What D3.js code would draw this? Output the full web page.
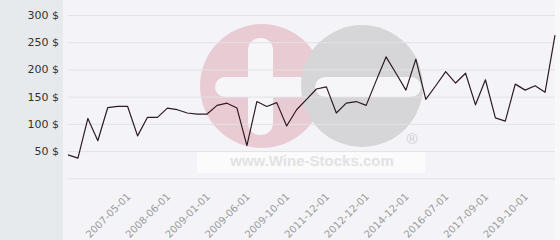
<!DOCTYPE html>
<html><head><meta charset="utf-8">
<script src="https://cdn.jsdelivr.net/npm/d3@7/dist/d3.min.js"></script>
<style>html,body{margin:0;padding:0;background:#fff}svg{display:block}</style>
</head><body>
<svg id="c" width="560" height="240"></svg>
<script>
// ---- data ----
const values = [43, 37, 110, 69, 130, 132, 132, 78, 112, 112,
                129, 126, 120, 118, 118, 134, 138, 129, 60, 141,
                132, 139, 96, 126, 145, 164, 168, 120, 138, 141,
                134, 179, 223, 193, 162, 219, 145, 170, 196, 175,
                193, 135, 181, 111, 105, 173, 162, 170, 158, 263];
const tickLabels = ["2007-05-01","2008-06-01","2009-01-01","2009-06-01","2009-10-01",
                    "2011-12-01","2012-12-01","2014-12-01","2016-07-01","2017-09-01","2019-10-01"];
const tickIndex = [6, 10, 14, 18, 22, 26, 30, 34, 38, 42, 46];
const yTicks = [0, 50, 100, 150, 200, 250, 300];

const W = 560, H = 240;
const svg = d3.select("#c");
const pL = 68, pR = 555, pT = 15, pB = 178.3;

// backgrounds
svg.append("rect").attr("x",0).attr("y",0).attr("width",W).attr("height",H).attr("fill","#f8f8fa");
svg.append("rect").attr("x",0).attr("y",0).attr("width",63).attr("height",H).attr("fill","#e6eaed");
svg.append("rect").attr("x",63).attr("y",0).attr("width",pR-63).attr("height",H).attr("fill","#f4f4f8");

const idx = d3.range(values.length);
const x = d3.scalePoint().domain(idx).range([pL, pR]).padding(0);
const y = d3.scaleLinear().domain([0, 300]).range([pB, pT]);

// watermark
const wm = svg.append("g");
wm.append("circle").attr("cx",262).attr("cy",86).attr("r",62).attr("fill","#e9cbd3");
wm.append("rect").attr("x",215).attr("y",77).attr("width",95).attr("height",20).attr("rx",10).attr("fill","#f6f6f9");
wm.append("rect").attr("x",248).attr("y",38).attr("width",25).attr("height",97).attr("rx",12).attr("fill","#f6f6f9");
wm.append("circle").attr("cx",362).attr("cy",86).attr("r",61).attr("fill","#d6d6d8");
wm.append("rect").attr("x",315).attr("y",77).attr("width",106).attr("height",20).attr("rx",10).attr("fill","#f6f6f9");
wm.append("text").attr("x",412).attr("y",144).attr("text-anchor","middle")
  .attr("font-family","Liberation Sans, Arial, sans-serif").attr("font-size",15)
  .attr("fill","#cfcfd2").text("®");
wm.append("rect").attr("x",197).attr("y",152).attr("width",228).attr("height",21).attr("fill","#fbfbfc");
wm.append("text").attr("x",312).attr("y",166).attr("text-anchor","middle")
  .attr("font-family","Liberation Sans, Arial, sans-serif").attr("font-weight","bold").attr("font-size",15)
  .attr("fill","#e2e2e4").text("www.Wine-Stocks.com");

// y gridlines + labels
const yAxis = d3.axisLeft(y).tickValues(yTicks).tickSize(-(pR-pL)).tickPadding(9)
  .tickFormat(d => d === 0 ? "" : d + " $");
const gy = svg.append("g").attr("transform",`translate(${pL},0)`).call(yAxis);
gy.select(".domain").remove();
gy.selectAll(".tick line").attr("stroke","#e2e2e6").attr("stroke-width",1);
gy.selectAll(".tick text").attr("font-family","DejaVu Sans, sans-serif").attr("font-size",11)
  .attr("fill","#333").attr("x",-9);

// x axis labels
const xAxis = d3.axisBottom(x).tickValues(tickIndex).tickSize(0).tickFormat((d,i) => tickLabels[i]);
const gx = svg.append("g").attr("transform",`translate(0,${pB})`).call(xAxis);
gx.select(".domain").remove();
gx.selectAll(".tick text").attr("font-family","DejaVu Sans, sans-serif").attr("font-size",10)
  .attr("fill","#9a9a9a").attr("text-anchor","end").attr("dy",0).attr("y",0)
  .attr("transform","translate(3,19) rotate(-45)");

// line
const line = d3.line().x((d,i) => x(i)).y(d => y(d));
svg.append("path").datum(values).attr("d",line).attr("fill","none")
  .attr("stroke","#2f1b25").attr("stroke-width",1.2).attr("stroke-linejoin","round");
</script>
</body></html>
